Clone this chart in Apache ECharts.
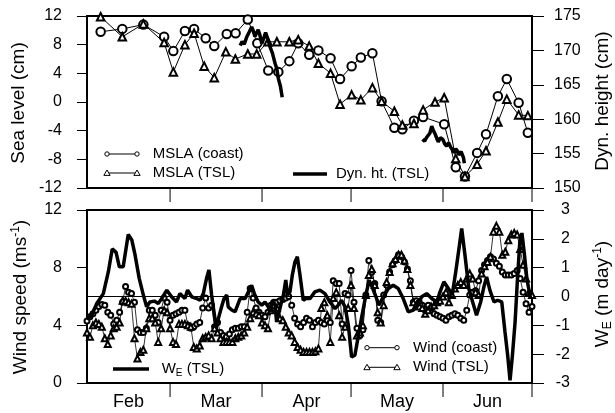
<!DOCTYPE html>
<html><head><meta charset="utf-8">
<script src="https://cdn.jsdelivr.net/npm/echarts@6/dist/echarts.min.js"></script>
<style>html,body{margin:0;padding:0;background:#fff}#c{width:615px;height:413px}</style>
</head><body><div id="c"></div>
<script>
const FONT = 'Liberation Sans, Arial, Helvetica, sans-serif';

// x axis: days since 1 Feb
const monthTickDays = [28, 59, 89, 120, 150];
const monthLabelDays = [14, 43.5, 74, 104.5, 135];
const monthNames = ['Feb', 'Mar', 'Apr', 'May', 'Jun'];

// Top panel: sea level (cm)
const mslaCoastDays = [4.6,11.9,19.0,26.0,29.1,33.0,36.1,40.0,42.9,47.1,50.1,54.2,57.4,61.1,64.5,68.2,71.2,74.9,78.0,82.1,85.3,89.2,92.3,96.2,99.3,103.6,106.3,110.2,113.3,120.4,124.3,127.4,131.5,134.5,138.5,141.5,145.5,148.6];
const mslaCoast = [9.8,10.2,10.8,9.1,7.1,9.9,10.2,8.9,7.8,9.5,9.6,11.5,8.2,4.4,4.2,5.7,8.2,6.6,7.2,6.1,3.2,5.0,6.2,6.8,0.1,-3.6,-3.8,-2.6,-2.1,-3.1,-9.1,-10.4,-7.1,-4.5,0.8,3.2,-0.1,-4.3];
const mslaTslDays = [4.6,11.9,19.0,26.0,29.1,33.0,36.1,39.5,42.9,46.8,50.0,54.2,57.2,61.0,64.0,68.2,71.2,74.9,78.0,82.1,85.3,89.2,92.3,96.2,99.3,103.6,106.3,110.2,113.3,117.3,120.4,124.3,127.4,131.5,134.5,138.5,141.5,145.5,148.6];
const mslaTsl = [11.9,9.1,10.9,8.3,4.2,8.0,9.6,5.0,3.4,7.0,6.0,6.7,6.7,8.4,8.4,8.4,8.7,7.8,5.4,4.0,-0.3,1.0,0.3,2.0,0.1,-1.3,-3.2,-3.0,-1.1,0.0,0.6,-7.9,-10.4,-8.7,-6.8,-2.8,0.4,-1.8,-1.9];

// Dynamic height (cm), two CTD segments
const dynDays1 = [51.6,52.3,53.0,53.8,54.6,55.5,56.0,56.6,57.2,57.7,58.3,58.9,59.6,60.2,61.0,61.7,62.5,63.4,64.0,64.5,65.2,65.8];
const dynHt1 = [170.7,171.3,170.9,171.9,172.6,173.4,172.9,172.0,172.6,173.0,172.2,171.0,171.8,172.6,171.6,170.5,169.6,168.1,167.3,165.9,164.8,163.2];
const dynDays2 = [113.1,113.8,114.4,115.0,115.6,116.2,116.8,117.3,117.9,118.4,119.1,119.9,120.6,121.2,121.9,122.6,123.2,123.7,124.3,124.8,125.3,125.7,126.1,126.5,126.9,127.2];
const dynHt2 = [157.1,156.8,157.3,157.1,158.0,159.0,158.3,157.9,157.2,156.7,157.3,157.1,156.4,156.1,156.6,155.9,155.6,155.1,155.7,155.4,154.8,154.6,155.3,155.1,154.4,153.6];

// Bottom panel: daily wind speed (m/s), day 0 = 1 Feb
const windCoast = [4.3,4.6,4.8,5.05,5.3,5.45,5.4,4.9,4.7,4.1,4.35,4.9,5.6,6.7,6.3,6.2,5.6,3.7,3.5,3.5,
3.8,5.05,5.05,4.7,4.2,5.05,5.9,5.6,4.35,4.7,4.8,4.9,5.05,5.05,4.0,3.8,3.9,4.1,4.2,5.2,
5.9,5.2,5.4,3.9,4.2,3.5,3.3,3.2,3.4,3.7,3.8,3.8,3.9,3.9,4.9,6.55,5.9,5.2,4.9,4.7,
4.6,4.9,5.4,5.6,5.6,5.7,5.8,5.9,6.0,5.4,4.5,4.1,3.9,4.2,4.5,4.35,3.9,4.2,4.35,4.2,
4.1,4.35,4.2,7.1,6.9,6.9,4.1,6.2,6.1,7.8,5.6,3.8,3.3,3.7,6.1,8.5,7.7,6.9,4.35,4.2,
6.1,6.8,7.7,8.2,8.5,8.9,8.75,8.4,7.9,7.1,5.6,5.7,5.6,5.4,5.05,5.4,5.2,4.8,4.7,4.6,
4.5,4.35,4.6,4.7,4.8,4.7,4.5,4.35,5.05,6.1,6.3,6.4,7.1,7.8,8.2,8.5,8.75,8.6,8.3,8.1,
7.7,7.5,7.5,7.5,7.6,7.8,7.25,6.3,5.5,4.9,5.3];
const windTsl = [3.5,3.2,4.0,4.2,4.1,3.9,3.1,2.7,3.3,3.8,3.9,4.2,5.7,5.7,5.6,5.5,3.1,1.7,2.15,2.3,
3.8,4.5,4.5,4.2,2.85,3.8,5.05,4.9,3.8,2.85,2.7,4.1,4.1,4.1,4.0,3.9,2.5,2.4,2.6,3.1,
3.2,3.3,3.1,3.8,3.5,3.1,2.85,2.85,2.85,2.85,3.1,3.2,3.3,3.5,3.9,4.5,4.9,4.8,4.7,4.2,
4.0,3.8,5.05,5.4,5.2,4.5,4.35,3.9,3.5,3.3,2.85,2.5,2.3,2.15,2.15,2.15,2.15,2.2,2.4,5.2,
5.6,4.7,2.85,5.9,6.3,4.7,3.2,3.9,5.2,6.8,5.2,3.3,3.5,4.0,6.1,7.5,7.9,6.8,4.9,4.2,
5.4,7.0,7.7,8.3,8.6,8.9,8.9,8.5,7.9,6.8,5.6,5.4,5.3,5.2,4.8,5.05,5.3,5.4,5.6,5.7,
6.0,6.3,5.6,6.1,6.55,6.8,7.0,6.8,7.25,7.6,7.25,6.3,6.1,7.6,8.1,8.4,8.75,10.5,10.9,10.5,
8.9,9.1,9.9,10.3,10.4,10.3,9.3,8.2,7.25,6.3,6.1];

// Ekman pumping W_E (m/day)
const weDays = [0,1.6,3.3,5.5,7.2,8.5,9.8,10.9,12.2,13.9,15.1,16.2,17.6,19.0,20.1,21.2,22.7,24.0,25.2,26.9,28.5,30.2,31.3,33.0,33.9,35.3,37.0,38.1,39.2,40.3,41.1,42.0,42.8,43.5,44.3,45.2,46.2,47.1,47.6,48.8,49.9,51.6,53.3,54.4,55.5,56.4,57.7,58.9,60.0,61.1,61.7,62.5,63.4,63.9,64.5,65.3,66.2,67.0,67.6,68.4,69.2,70.1,70.9,71.8,72.9,73.8,75.2,76.8,78.5,80.2,81.9,83.6,84.7,85.8,87.0,88.1,89.2,90.3,91.4,92.6,94.0,95.1,96.3,97.4,98.4,99.9,101.6,103.2,104.9,106.6,108.3,110.0,111.5,112.8,114.5,116.2,117.9,119.0,120.3,121.8,123.1,124.3,125.4,126.3,127.4,128.7,130.0,131.3,132.7,133.8,134.7,135.8,137.2,138.4,139.8,140.9,141.8,142.6,143.4,144.3,145.1,145.9,146.6,147.4,148.3,149.3,150];
const weTsl = [-0.8,-0.65,-0.24,0.1,0.86,1.65,1.53,1.03,1.03,2.15,1.96,1.44,0.63,0.05,-0.36,-0.19,-0.16,-0.24,-0.07,0.22,-0.01,-0.19,0.1,-0.07,0.22,-0.01,-0.07,-0.13,0.1,0.63,0.92,0.05,-0.53,-1.05,-0.76,-0.42,-0.07,0.05,-0.36,-0.47,-0.53,-0.07,-0.07,0.16,0.39,0.1,-0.19,-0.3,-0.19,-0.36,-0.53,-0.13,-0.3,-0.88,-0.65,-0.3,0.05,0.57,0.05,0.16,0.74,1.2,1.38,0.74,-0.13,-0.07,-0.07,0.16,0.22,0.1,-0.19,-0.42,-0.3,-0.13,-0.36,-1.0,-2.1,-2.04,-1.4,-0.71,0.05,0.57,0.28,-0.01,-0.3,-0.01,0.28,0.39,0.28,-0.07,-0.53,-0.47,-0.3,-0.01,0.1,-0.07,-0.19,0.16,0.51,0.28,0.05,0.86,1.67,2.36,1.44,0.28,-0.19,-0.65,-0.19,0.34,0.68,0.22,-0.19,-0.13,-0.19,-1.23,-2.04,-2.91,-2.04,-0.88,0.6,1.9,2.2,1.5,0.6,0.05,0.16];

const pair = (xs, ys) => xs.map((x, i) => [x, ys[i]]);
const daily = ys => ys.map((v, i) => [i, v]);

const chart = echarts.init(document.getElementById('c'), null, {renderer: 'canvas'});

const blk = '#000';
const xBase = (gi, labels) => ({
  gridIndex: gi, type: 'value', min: 0, max: 150, position: 'bottom',
  axisLine: {show: true, onZero: false, lineStyle: {color: blk, width: 2}},
  axisTick: {show: false},
  axisLabel: labels ? {
    show: true, customValues: monthLabelDays,
    formatter: v => monthNames[monthLabelDays.indexOf(v)] || '',
    fontSize: 18, color: blk, fontFamily: FONT, margin: 10
  } : {show: false},
  splitLine: {show: false}
});
const yBase = (gi, pos, min, max, interval, tickLen, label) => ({
  gridIndex: gi, type: 'value', position: pos, min, max, interval,
  axisLine: {show: true, onZero: false, lineStyle: {color: blk, width: 2}},
  axisTick: {show: true, inside: false, length: tickLen, lineStyle: {color: blk, width: 1}},
  axisLabel: Object.assign({fontSize: 16, color: blk, fontFamily: FONT}, label),
  splitLine: {show: false}
});

// month-boundary tick marks below each panel, positioned through the x scale
const monthTicks = (xi, yi, yBottom) => ({
  type: 'custom', xAxisIndex: xi, yAxisIndex: yi, clip: false, silent: true, z: 5,
  data: monthTickDays.map(d => [d, yBottom]),
  renderItem: (params, api) => {
    const p = api.coord([api.value(0), api.value(1)]);
    return {type: 'line', shape: {x1: p[0], y1: p[1], x2: p[0], y2: p[1] + 14},
            style: {stroke: blk, lineWidth: 1}};
  }
});

const txt = (x, y, text, extra) => ({
  type: 'text', x, y, silent: true,
  style: Object.assign({text, fill: blk, fontSize: 15, fontFamily: FONT, align: 'left', verticalAlign: 'middle'}, extra || {})
});
const tri = (x, y, s) => ({
  type: 'polygon', silent: true,
  shape: {points: [[x, y - s], [x - s * 1.05, y + s * 0.8], [x + s * 1.05, y + s * 0.8]]},
  style: {fill: '#fff', stroke: blk, lineWidth: 1}
});
const circ = (x, y, r) => ({type: 'circle', silent: true, shape: {cx: x, cy: y, r}, style: {fill: '#fff', stroke: blk, lineWidth: 1}});
const hline = (x1, x2, y, w) => ({type: 'line', silent: true, shape: {x1, y1: y, x2, y2: y}, style: {stroke: blk, lineWidth: w}});
const rotTitle = (x, y, text, rich) => ({
  type: 'text', x, y, rotation: Math.PI / 2, silent: true,
  style: {text, fill: blk, fontSize: 19, fontFamily: FONT, align: 'center', verticalAlign: 'middle', rich}
});
const richSup = {
  a: {fontSize: 19, fontFamily: FONT, fill: blk, lineHeight: 22},
  s: {fontSize: 12, fontFamily: FONT, fill: blk, verticalAlign: 'top', lineHeight: 13},
  b: {fontSize: 12, fontFamily: FONT, fill: blk, verticalAlign: 'bottom', lineHeight: 13}
};
const richLeg = {
  a: {fontSize: 15, fontFamily: FONT, fill: blk, lineHeight: 18},
  b: {fontSize: 10, fontFamily: FONT, fill: blk, verticalAlign: 'bottom', lineHeight: 10}
};

const option = {
  animation: false,
  backgroundColor: '#fff',
  grid: [
    {left: 87, top: 16, width: 445, height: 172, show: true, borderColor: blk, borderWidth: 2, backgroundColor: 'transparent'},
    {left: 87, top: 210, width: 445, height: 173, show: true, borderColor: blk, borderWidth: 2, backgroundColor: 'transparent'}
  ],
  xAxis: [xBase(0, false), xBase(1, true)],
  yAxis: [
    yBase(0, 'left', -12, 12, 4, 10, {margin: 25}),
    yBase(0, 'right', 150, 175, 5, 12, {margin: 22}),
    yBase(1, 'left', 0, 12, 4, 10, {margin: 25}),
    yBase(1, 'right', -3, 3, 1, 12, {margin: 38, align: 'right'})
  ],
  series: [
    {type: 'line', xAxisIndex: 0, yAxisIndex: 0, data: pair(mslaCoastDays, mslaCoast),
     symbol: 'emptyCircle', symbolSize: 8.5, showAllSymbol: true,
     lineStyle: {color: blk, width: 1}, itemStyle: {color: blk, borderColor: blk, borderWidth: 1}, z: 3},
    {type: 'line', xAxisIndex: 0, yAxisIndex: 0, data: pair(mslaTslDays, mslaTsl),
     symbol: 'emptyTriangle', symbolSize: 7.5, showAllSymbol: true,
     lineStyle: {color: blk, width: 1}, itemStyle: {color: blk, borderColor: blk, borderWidth: 1}, z: 3},
    {type: 'line', xAxisIndex: 0, yAxisIndex: 1, data: pair(dynDays1, dynHt1), showSymbol: false,
     lineStyle: {color: blk, width: 3.5}, z: 4},
    {type: 'line', xAxisIndex: 0, yAxisIndex: 1, data: pair(dynDays2, dynHt2), showSymbol: false,
     lineStyle: {color: blk, width: 3.5}, z: 4},
    {type: 'line', xAxisIndex: 1, yAxisIndex: 2, data: daily(windCoast),
     symbol: 'emptyCircle', symbolSize: 5, showAllSymbol: true,
     lineStyle: {color: blk, width: 0.8}, itemStyle: {color: blk, borderColor: blk, borderWidth: 0.8}, z: 3},
    {type: 'line', xAxisIndex: 1, yAxisIndex: 2, data: daily(windTsl),
     symbol: 'emptyTriangle', symbolSize: 6, showAllSymbol: true,
     lineStyle: {color: blk, width: 0.8}, itemStyle: {color: blk, borderColor: blk, borderWidth: 0.8}, z: 3},
    {type: 'line', xAxisIndex: 1, yAxisIndex: 3, data: pair(weDays, weTsl), showSymbol: false,
     lineStyle: {color: blk, width: 3.5}, z: 4,
     markLine: {silent: true, symbol: 'none', label: {show: false},
       lineStyle: {color: blk, width: 1, type: 'solid'}, data: [{yAxis: 0}]}},
    monthTicks(0, 0, -12),
    monthTicks(1, 2, 0)
  ],
  graphic: [
    rotTitle(19, 103, 'Sea level (cm)'),
    rotTitle(21, 297, '{a|Wind speed (ms}{s|-1}{a|)}', richSup),
    rotTitle(603, 101, 'Dyn. height (cm)'),
    rotTitle(603, 294, '{a|W}{b|E}{a| (m day}{s|-1}{a|)}', richSup),
    hline(107, 137, 154, 1), circ(107, 154, 2.2), circ(137, 154, 2.2), txt(152.7, 154, 'MSLA (coast)'),
    hline(107, 137, 173, 1), tri(107, 173, 3), tri(137, 173, 3), txt(152.7, 173, 'MSLA (TSL)'),
    hline(293, 327, 174, 3.5), txt(336, 174, 'Dyn. ht. (TSL)'),
    hline(113, 149, 369, 3.5), txt(161.7, 369, '{a|W}{b|E}{a| (TSL)}', {rich: richLeg}),
    hline(367, 397, 347.7, 1), circ(367, 347.7, 2.2), circ(397, 347.7, 2.2), txt(413, 347.7, 'Wind (coast)'),
    hline(367, 397, 367.3, 1), tri(367, 367.3, 3), tri(397, 367.3, 3), txt(413, 367.3, 'Wind (TSL)')
  ]
};
chart.setOption(option);
</script>
</body></html>
